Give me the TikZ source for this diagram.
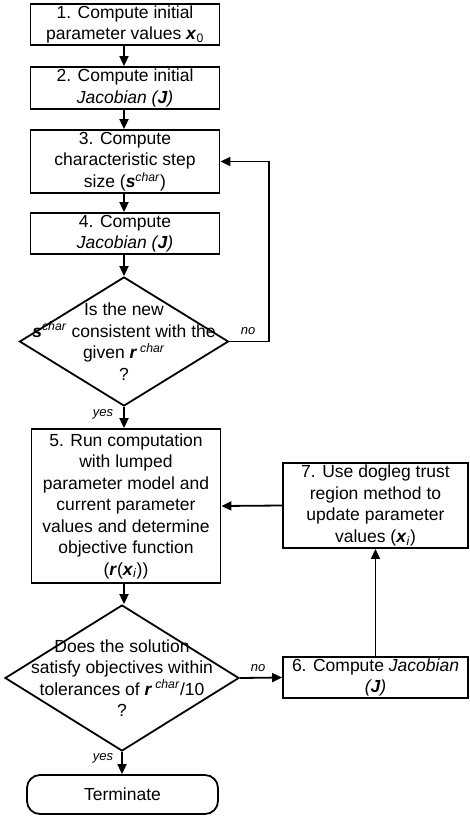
\documentclass[tikz,border=0pt]{standalone}
\usepackage{fontspec}
\setmainfont{Liberation Sans}
\usetikzlibrary{shapes.geometric,arrows.meta}
\newcommand{\bx}[1]{\textbf{\textit{#1}}}
\newcommand{\chr}{\textsuperscript{\textit{char}}}
\begin{document}
\begin{tikzpicture}[x=1pt,y=-1pt,
  every node/.style={font=\fontsize{17.5}{21.5}\selectfont},
  box/.style={draw,line width=1.8pt,inner sep=0pt,align=center},
  dia/.style={draw,diamond,line width=1.8pt,inner sep=0pt},
  arr/.style={line width=1.8pt,-{Triangle[length=10pt,width=9pt]}},
  lbl/.style={font=\fontsize{13}{15}\selectfont\itshape}]
\useasboundingbox (0,0) rectangle (469,816);
\node[box,minimum width=189pt,minimum height=41pt] (b1) at (125,24.5) {1. Compute initial\\parameter values \bx{x}\textsubscript{0}};
\node[box,minimum width=189pt,minimum height=42pt] (b2) at (125,88) {2. Compute initial\\\textit{Jacobian (\textbf{J})}};
\node[box,minimum width=189pt,minimum height=63pt] (b3) at (125,161.5) {3. Compute\\characteristic step\\size (\bx{s}\chr)};
\node[box,minimum width=189pt,minimum height=41pt] (b4) at (125,233.5) {4. Compute\\\textit{Jacobian (\textbf{J})}};
\node[dia,minimum width=209pt,minimum height=129pt] (d1) at (124,341.5) {};
\node[align=center] at (d1.center) {Is the new\\\bx{s}\chr{} consistent with the\\given \bx{r}\,\chr\\?};
\node[box,minimum width=189pt,minimum height=154pt] (b5) at (126,506) {5. Run computation\\with lumped\\parameter model and\\current parameter\\values and determine\\objective function\\(\bx{r}(\bx{x}\textsubscript{\textit{i}}))};
\node[box,minimum width=185pt,minimum height=85pt] (b7) at (375.5,505.5) {7. Use dogleg trust\\region method to\\update parameter\\values (\bx{x}\textsubscript{\textit{i}})};
\node[dia,minimum width=234pt,minimum height=146pt] (d2) at (122,678) {};
\node[align=center] at (d2.center) {Does the solution\\satisfy objectives within\\tolerances of \bx{r}\,\chr/10\\?};
\node[box,minimum width=185pt,minimum height=41pt] (b6) at (375.5,677.5) {6. Compute \textit{Jacobian}\\\textit{(\textbf{J})}};
\node[box,rounded corners=13pt,minimum width=191pt,minimum height=39pt] (t) at (122.5,794.5) {Terminate};
\draw[arr] (b1.south -| 124,0) -- (b2.north -| 124,0);
\draw[arr] (b2.south -| 124,0) -- (b3.north -| 124,0);
\draw[arr] (b3.south -| 124,0) -- (b4.north -| 124,0);
\draw[arr] (b4.south -| 124,0) -- (d1.north);
\coordinate (c1) at (269,341.5);
\draw[arr] (d1.east) -- (c1) |- (b3.east);
\node[lbl] at (248,331) {no};
\draw[arr] (d1.south) -- (b5.north -| d1.south);
\node[lbl] at (103,414) {yes};
\draw[arr] (b5.south -| 124,0) -- (d2.north -| 124,0);
\draw[arr] (b7.west) -- (b5.east);
\draw[arr] (b6.north) -- (b7.south);
\draw[arr] (d2.east) -- (b6.west);
\node[lbl] at (258,668) {no};
\draw[arr] (d2.south) -- (t.north -| d2.south);
\node[lbl] at (103,758) {yes};
\end{tikzpicture}
\end{document}
